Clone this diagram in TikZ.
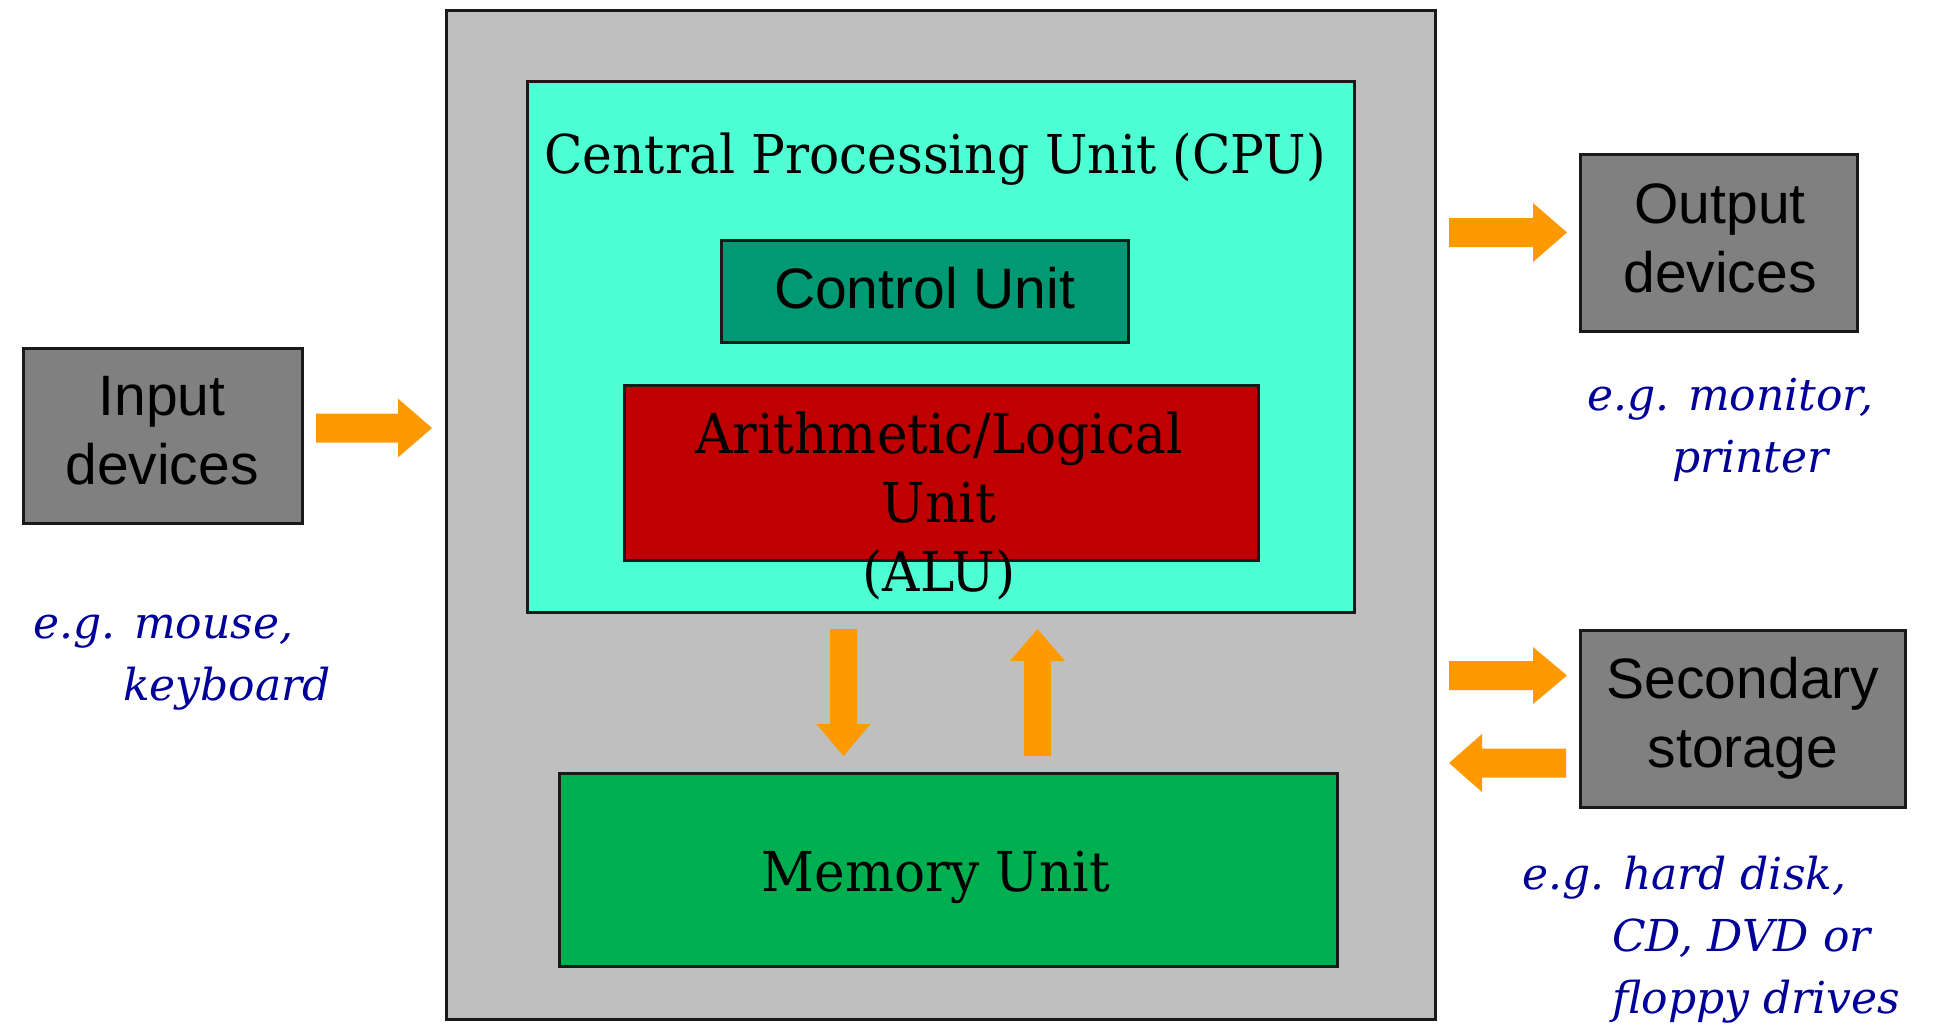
\documentclass[tikz,border=0pt]{standalone}
\usepackage{fontspec}
\setmainfont{DejaVu Serif}
\newfontfamily\unitserif[FakeStretch=0.94]{DejaVu Serif}
\newfontfamily\notefont{DejaVu Serif}
\newfontfamily\devsans{Liberation Sans}

\definecolor{casegray}{RGB}{191,191,191}
\definecolor{cpuaqua}{RGB}{77,255,210}
\definecolor{ctrlgreen}{RGB}{0,153,115}
\definecolor{alured}{RGB}{192,0,0}
\definecolor{memgreen}{RGB}{0,176,80}
\definecolor{devgray}{RGB}{128,128,128}
\definecolor{flow}{RGB}{255,153,0}
\definecolor{noteblue}{RGB}{0,0,153}

\tikzset{
  unit/.style={draw=black!90, line width=3pt, inner sep=0pt, outer sep=0pt},
  devbox/.style={unit, fill=devgray},
  devtext/.style={font=\devsans\fontsize{57}{69}\selectfont, align=center,
    inner sep=0pt, anchor=base},
  unittext/.style={font=\unitserif\fontsize{55}{69}\selectfont, align=center,
    inner sep=0pt, anchor=base},
  note/.style={font=\notefont\itshape\fontsize{44}{62}\selectfont,
    text=noteblue, align=left, inner sep=0pt, anchor=base west},
  % block arrow: length, shaft half width, head half width, head length
  pics/flowarrow/.style n args={4}{code={
    \fill[flow] (0,-#2) -- (#1-#4,-#2) -- (#1-#4,-#3) -- (#1,0)
      -- (#1-#4,#3) -- (#1-#4,#2) -- (0,#2) -- cycle;
  }},
}

\begin{document}
\begin{tikzpicture}[x=1pt,y=-1pt]
\useasboundingbox (0,0) rectangle (1952,1025);

% computer case and its units
\node[unit, fill=casegray, minimum width=989, minimum height=1008] (case) at (940.5,515) {};
\node[unit, fill=cpuaqua, minimum width=827, minimum height=530] (cpu) at (940.5,347) {};
\node[unit, fill=ctrlgreen, minimum width=407, minimum height=102] (ctrl) at (924.5,291) {};
\node[unit, fill=alured, minimum width=634, minimum height=175] (alu) at (941,472.5) {};
\node[unit, fill=memgreen, minimum width=778, minimum height=193] (mem) at (948,869.5) {};

% peripheral devices
\node[devbox, minimum width=279, minimum height=175] (input) at (162.5,435.5) {};
\node[devbox, minimum width=277, minimum height=177] (output) at (1718.5,242.5) {};
\node[devbox, minimum width=325, minimum height=177] (storage) at (1742.5,718.5) {};

% data flow arrows
\pic (inflow) at (316,428) {flowarrow={116}{14.5}{29.5}{34}};
\pic (outflow) at (1449,232.5) {flowarrow={118}{14.5}{29.5}{34}};
\pic (storein) at (1449,675.5) {flowarrow={118}{14.5}{28.5}{34}};
\pic[rotate=180] (storeout) at (1566,763) {flowarrow={117}{14.5}{29}{33}};
\pic[rotate=-90] (tomem) at (843.5,629) {flowarrow={127}{13.5}{27}{32}};
\pic[rotate=90] (frommem) at (1037.5,756) {flowarrow={127}{13.5}{27.5}{32}};

% unit labels (multi-line labels sit on the baseline of their last line)
\node[unittext, font=\unitserif\fontsize{53.5}{69}\selectfont] (cpu-t) at (935,173) {Central Processing Unit (CPU)};
\node[devtext] (ctrl-t) at (924.5,308) {Control Unit};
\node[unittext] (alu-t) at (939,591) {Arithmetic/Logical\\Unit\\(ALU)};
\node[unittext] (mem-t) at (936,891) {Memory Unit};

\node[devtext] (input-t) at (162,484) {Input\\devices};
\node[devtext] (output-t) at (1720,292) {Output\\devices};
\node[devtext] (storage-t) at (1743,767) {Secondary\\storage};

% examples
\node[note] (input-n) at (33,700) {e.g. mouse,\\\hspace*{90pt}keyboard};
\node[note] (output-n) at (1587,472) {e.g. monitor,\\\hspace*{85pt}printer};
\node[note] (storage-n) at (1522,1013) {e.g. hard disk,\\\hspace*{90pt}CD, DVD or\\\hspace*{90pt}floppy drives};
\end{tikzpicture}
\end{document}
